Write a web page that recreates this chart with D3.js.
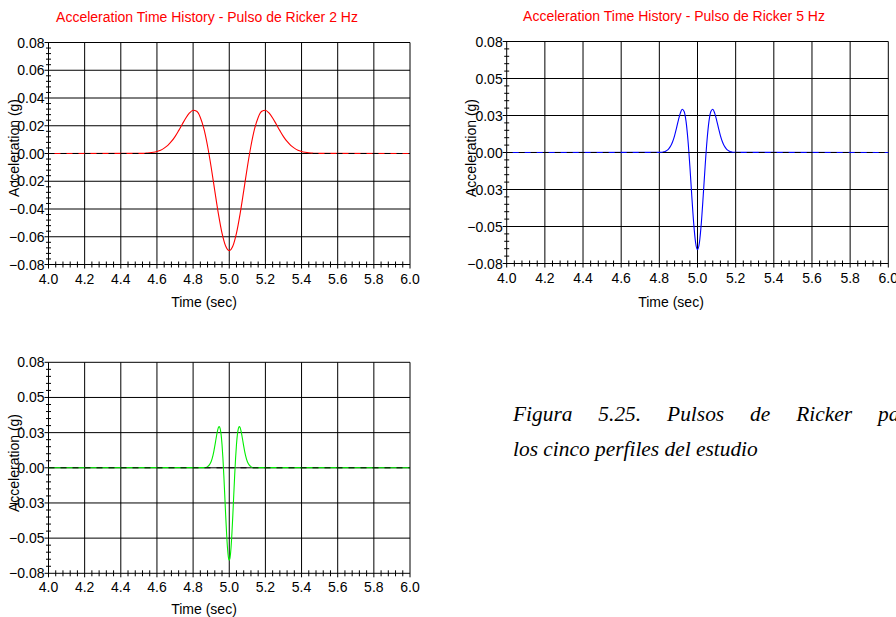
<!DOCTYPE html>
<html>
<head>
<meta charset="utf-8">
<script src="https://cdnjs.cloudflare.com/ajax/libs/d3/7.8.5/d3.min.js"></script>
<style>
  html, body { margin: 0; padding: 0; background: #fff; }
  svg { display: block; }
  .tick-label, .axis-title { font-family: "Liberation Sans", Arial, sans-serif; font-size: 14px; fill: #000; }
  .chart-title { font-family: "Liberation Sans", Arial, sans-serif; font-size: 14px; fill: #ff0000; }
  .caption { font-family: "Liberation Serif", "Times New Roman", serif; font-style: italic; font-size: 21.4px; fill: #000; }
</style>
</head>
<body>
<svg id="fig" width="896" height="617"></svg>
<script>
// Time axis shared by all panels
const timeTicks = [4.0, 4.2, 4.4, 4.6, 4.8, 5.0, 5.2, 5.4, 5.6, 5.8, 6.0];
const timeDomain = [4.0, 6.0];
const accelDomain = [-0.08, 0.08];

// Ricker pulse, 2 Hz (time in s, acceleration in g)
const ricker2Time = [4.00, 4.50, 4.52, 4.54, 4.56, 4.58, 4.60, 4.62, 4.64, 4.66, 4.68, 4.70,
  4.72, 4.74, 4.76, 4.78, 4.80, 4.82, 4.84, 4.86, 4.88, 4.90, 4.92, 4.94, 4.96, 4.98, 5.00,
  5.02, 5.04, 5.06, 5.08, 5.10, 5.12, 5.14, 5.16, 5.18, 5.20, 5.22, 5.24, 5.26, 5.28, 5.30,
  5.32, 5.34, 5.36, 5.38, 5.40, 5.42, 5.44, 5.46, 5.48, 5.50, 6.00];
const ricker2Accel = [0, 0.0001, 0.0001, 0.0003, 0.0005, 0.0009, 0.0015, 0.0024, 0.0039, 0.0059, 0.0087, 0.0122,
  0.0165, 0.0211, 0.0256, 0.0292, 0.0312, 0.0304, 0.0260, 0.0177, 0.0054, -0.0099, -0.0269, -0.0435, -0.0574, -0.0667, -0.0700,
  -0.0667, -0.0574, -0.0435, -0.0269, -0.0099, 0.0054, 0.0177, 0.0260, 0.0304, 0.0312, 0.0292, 0.0256, 0.0211, 0.0165, 0.0122,
  0.0087, 0.0059, 0.0039, 0.0024, 0.0015, 0.0009, 0.0005, 0.0003, 0.0001, 0.0001, 0];

// Ricker pulse, 5 Hz
const ricker5Time = [4.00, 4.80, 4.81, 4.82, 4.83, 4.84, 4.85, 4.86, 4.87, 4.88, 4.89, 4.90,
  4.91, 4.92, 4.93, 4.94, 4.95, 4.96, 4.97, 4.98, 4.99, 5.00, 5.01, 5.02, 5.03, 5.04, 5.05,
  5.06, 5.07, 5.08, 5.09, 5.10, 5.11, 5.12, 5.13, 5.14, 5.15, 5.16, 5.17, 5.18, 5.19, 5.20, 6.00];
const ricker5Accel = [0, 0.0001, 0.0002, 0.0004, 0.0007, 0.0015, 0.0028, 0.0048, 0.0079, 0.0122, 0.0176, 0.0234,
  0.0284, 0.0312, 0.0296, 0.0224, 0.0088, -0.0099, -0.0312, -0.0509, -0.0649, -0.0700, -0.0649, -0.0509, -0.0312, -0.0099, 0.0088,
  0.0224, 0.0296, 0.0312, 0.0284, 0.0234, 0.0176, 0.0122, 0.0079, 0.0048, 0.0028, 0.0015, 0.0007, 0.0004, 0.0002, 0.0001, 0];

// Ricker pulse, 7 Hz
const ricker7Time = [4.000, 4.860, 4.870, 4.880, 4.890, 4.900, 4.910, 4.915, 4.920, 4.925, 4.930,
  4.935, 4.940, 4.945, 4.950, 4.955, 4.960, 4.965, 4.970, 4.975, 4.980, 4.985, 4.990, 4.995, 5.000,
  5.005, 5.010, 5.015, 5.020, 5.025, 5.030, 5.035, 5.040, 5.045, 5.050, 5.055, 5.060, 5.065, 5.070,
  5.075, 5.080, 5.085, 5.090, 5.100, 5.110, 5.120, 5.130, 5.140, 6.000];
const ricker7Accel = [0, 0.0001, 0.0003, 0.0009, 0.0022, 0.0048, 0.0095, 0.0127, 0.0165, 0.0205, 0.0245,
  0.0280, 0.0305, 0.0312, 0.0296, 0.0252, 0.0177, 0.0072, -0.0059, -0.0205, -0.0354, -0.0491, -0.0602, -0.0675, -0.0700,
  -0.0675, -0.0602, -0.0491, -0.0354, -0.0205, -0.0059, 0.0072, 0.0177, 0.0252, 0.0296, 0.0312, 0.0305, 0.0280, 0.0245,
  0.0205, 0.0165, 0.0127, 0.0095, 0.0048, 0.0022, 0.0009, 0.0003, 0.0001, 0];

// Acceleration tick values per panel (labels use two decimals)
const accelTicks8 = [-0.08, -0.06, -0.04, -0.02, 0.00, 0.02, 0.04, 0.06, 0.08];
const accelTicks6 = [-0.08, -0.08 * 2 / 3, -0.08 / 3, 0, 0.08 / 3, 0.08 * 2 / 3, 0.08];

const titles = [
  "Acceleration Time History - Pulso de Ricker 2 Hz",
  "Acceleration Time History - Pulso de Ricker 5 Hz"
];
const captionLines = ["Figura 5.25. Pulsos de Ricker para", "los cinco perfiles del estudio"];

const svg = d3.select("#fig");
const fmt = d3.format(".2f");

function drawPanel(p) {
  const x = d3.scaleLinear().domain(timeDomain).range([p.left, p.right]);
  const y = d3.scaleLinear().domain(accelDomain).range([p.bottom, p.top]);
  const g = svg.append("g");

  // minor tick positions (5 subdivisions per major interval)
  const xMinor = [];
  for (let i = 0; i < timeTicks.length - 1; i++) {
    const a = timeTicks[i], b = timeTicks[i + 1];
    for (let k = 1; k < 5; k++) xMinor.push(a + (b - a) * k / 5);
  }
  const yMinor = [];
  for (let i = 0; i < p.yTicks.length - 1; i++) {
    const a = p.yTicks[i], b = p.yTicks[i + 1];
    for (let k = 1; k < 5; k++) yMinor.push(a + (b - a) * k / 5);
  }

  // grid
  g.selectAll(".vgrid").data(timeTicks).join("line")
    .attr("x1", d => x(d)).attr("x2", d => x(d))
    .attr("y1", p.top).attr("y2", p.bottom + 4)
    .attr("stroke", "#000").attr("stroke-width", 1);
  g.selectAll(".hgrid").data(p.yTicks).join("line")
    .attr("x1", p.left - 4).attr("x2", p.right)
    .attr("y1", d => y(d)).attr("y2", d => y(d))
    .attr("stroke", "#000").attr("stroke-width", 1);

  // minor ticks crossing the axes
  g.selectAll(".xminor").data(xMinor).join("line")
    .attr("x1", d => x(d)).attr("x2", d => x(d))
    .attr("y1", p.bottom - 3).attr("y2", p.bottom + 3)
    .attr("stroke", "#000").attr("stroke-width", 1);
  g.selectAll(".yminor").data(yMinor).join("line")
    .attr("x1", p.left - 2.5).attr("x2", p.left + 2.5)
    .attr("y1", d => y(d)).attr("y2", d => y(d))
    .attr("stroke", "#000").attr("stroke-width", 1);

  // tick labels
  g.selectAll(".xl").data(timeTicks).join("text")
    .attr("class", "tick-label")
    .attr("x", d => x(d)).attr("y", p.bottom + 19)
    .attr("text-anchor", "middle")
    .text(d => d.toFixed(1));
  g.selectAll(".yl").data(p.yTicks).join("text")
    .attr("class", "tick-label")
    .attr("x", p.left - 4).attr("y", d => y(d) + 5)
    .attr("text-anchor", "end")
    .text(d => fmt(Math.abs(d) < 1e-9 ? 0 : d));

  // series
  const pts = p.time.map((t, i) => [t, p.accel[i]]);
  const line = d3.line().x(d => x(d[0])).y(d => y(d[1])).curve(d3.curveMonotoneX);
  g.append("path").datum(pts)
    .attr("d", line)
    .attr("fill", "none")
    .attr("stroke", p.color)
    .attr("stroke-width", 1.1);

  // dashed baseline over the trace
  g.append("line")
    .attr("x1", p.left).attr("x2", p.right)
    .attr("y1", y(0)).attr("y2", y(0))
    .attr("stroke", "#000").attr("stroke-width", 1)
    .attr("stroke-dasharray", "6,6");

  // titles
  if (p.title) {
    g.append("text").attr("class", "chart-title")
      .attr("x", p.titleX).attr("y", p.titleY)
      .attr("text-anchor", "middle").text(p.title);
  }
  g.append("text").attr("class", "axis-title")
    .attr("x", p.xTitleX).attr("y", p.xTitleY)
    .attr("text-anchor", "middle").text("Time (sec)");
  g.append("text").attr("class", "axis-title")
    .attr("transform", `translate(${p.yTitleX},${p.yTitleY}) rotate(-90)`)
    .attr("text-anchor", "middle").text("Acceleration (g)");
}

drawPanel({
  left: 48.5, right: 410, top: 42.5, bottom: 264.5,
  yTicks: accelTicks8, time: ricker2Time, accel: ricker2Accel, color: "#ff0000",
  title: titles[0], titleX: 207, titleY: 22,
  xTitleX: 204, xTitleY: 307, yTitleX: 19, yTitleY: 148
});
drawPanel({
  left: 506.7, right: 888.3, top: 41.5, bottom: 263.5,
  yTicks: accelTicks6, time: ricker5Time, accel: ricker5Accel, color: "#0000ff",
  title: titles[1], titleX: 674, titleY: 21,
  xTitleX: 671, xTitleY: 307, yTitleX: 476, yTitleY: 148
});
drawPanel({
  left: 48.5, right: 410, top: 362.3, bottom: 573.3,
  yTicks: accelTicks6, time: ricker7Time, accel: ricker7Accel, color: "#00ee00",
  title: null,
  xTitleX: 204, xTitleY: 614, yTitleX: 19, yTitleY: 463
});

// figure caption (justified first line runs past the right edge)
svg.append("text").attr("class", "caption")
  .attr("x", 513).attr("y", 421)
  .attr("word-spacing", "20.6px")
  .text(captionLines[0]);
svg.append("text").attr("class", "caption")
  .attr("x", 513).attr("y", 456)
  .text(captionLines[1]);
</script>
</body>
</html>
